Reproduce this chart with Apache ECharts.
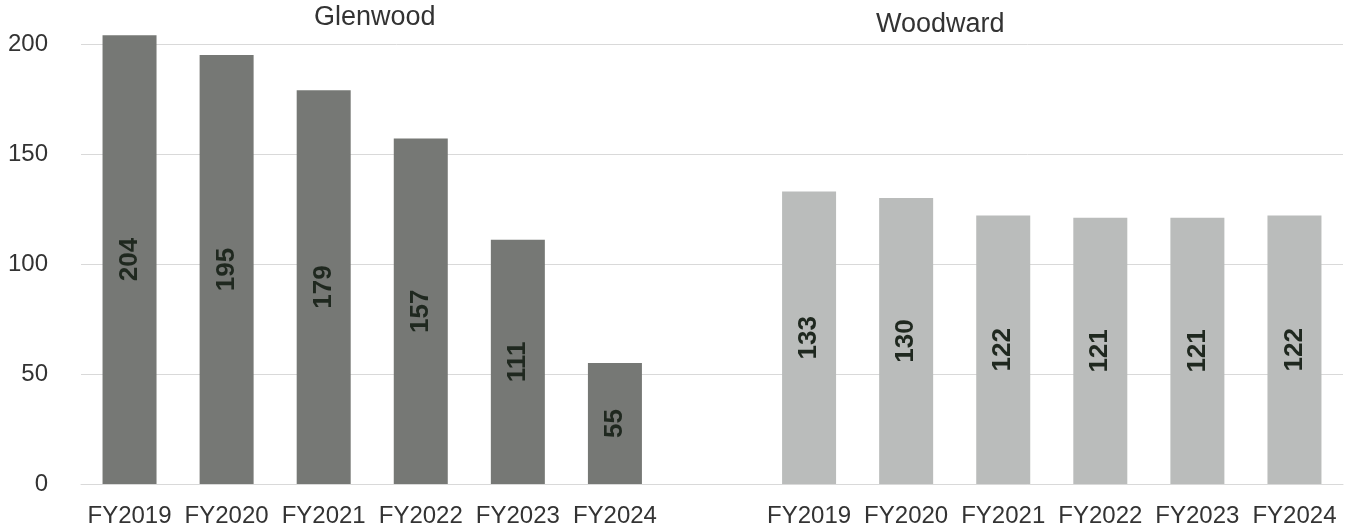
<!DOCTYPE html>
<html>
<head>
<meta charset="utf-8">
<script src="https://cdn.jsdelivr.net/npm/echarts@6/dist/echarts.min.js"></script>
<style>
  html, body { margin: 0; padding: 0; background: #ffffff; }
  #chart { width: 1349px; height: 529px; }
</style>
</head>
<body>
<div id="chart"></div>
<script>
// Fiscal years shown under each facility
const years = ['FY2019', 'FY2020', 'FY2021', 'FY2022', 'FY2023', 'FY2024'];
// Yearly counts per facility
const glenwood = [204, 195, 179, 157, 111, 55];
const woodward = [133, 130, 122, 121, 121, 122];
// Value axis ticks
const yTicks = [0, 50, 100, 150, 200];
// Facility headings
const groupNames = ['Glenwood', 'Woodward'];

// One shared category axis: Glenwood years, an empty spacer slot, Woodward years
const categories = [...years, '', ...years];
const blank = years.map(() => '-');
const glenwoodData = [...glenwood, '-', ...blank];
const woodwardData = [...blank, '-', ...woodward];

const FONT = '"Liberation Sans", Arial, sans-serif';

const chart = echarts.init(document.getElementById('chart'), null, { renderer: 'canvas' });

const barLabel = {
  show: true,
  position: 'inside',
  rotate: 90,
  color: '#1f281f',
  fontFamily: FONT,
  fontWeight: 'bold',
  fontSize: 26
};

chart.setOption({
  backgroundColor: '#ffffff',
  animation: false,
  grid: { left: 81, right: 6, top: 44, bottom: 45, containLabel: false },
  graphic: [
    {
      type: 'text', left: 314, top: 4,
      style: { text: groupNames[0], fill: '#333333', font: '27px ' + FONT }
    },
    {
      type: 'text', left: 876, top: 11,
      style: { text: groupNames[1], fill: '#333333', font: '27px ' + FONT }
    }
  ],
  xAxis: {
    type: 'category',
    data: categories,
    axisLine: { show: true, lineStyle: { color: '#d9d9d9', width: 1 } },
    axisTick: { show: false },
    axisLabel: { color: '#333333', fontFamily: FONT, fontSize: 24, margin: 20, interval: 0 }
  },
  yAxis: {
    type: 'value',
    min: yTicks[0],
    max: yTicks[yTicks.length - 1],
    interval: yTicks[1] - yTicks[0],
    axisLine: { show: false },
    axisTick: { show: false },
    axisLabel: { color: '#333333', fontFamily: FONT, fontSize: 24, margin: 33 },
    splitLine: { show: true, lineStyle: { color: '#d9d9d9', width: 1 } }
  },
  series: [
    {
      name: groupNames[0],
      type: 'bar',
      data: glenwoodData,
      barWidth: 54,
      barGap: '-100%',
      clip: false,
      itemStyle: { color: '#767875' },
      label: barLabel
    },
    {
      name: groupNames[1],
      type: 'bar',
      data: woodwardData,
      barWidth: 54,
      barGap: '-100%',
      clip: false,
      itemStyle: { color: '#babcbb' },
      label: barLabel
    }
  ]
});
</script>
</body>
</html>
